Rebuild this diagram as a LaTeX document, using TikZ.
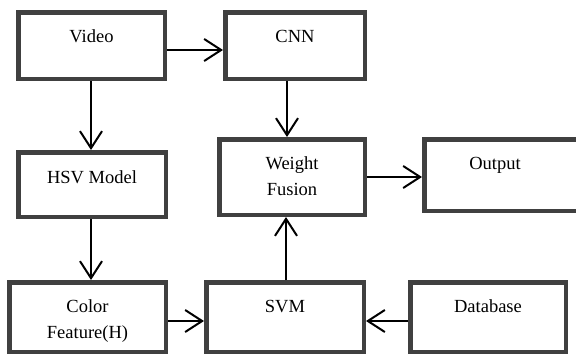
\documentclass[tikz,border=0pt]{standalone}
\usepackage{fontspec}
\setmainfont{Liberation Serif}
\usetikzlibrary{arrows.meta}
\definecolor{boxgray}{HTML}{404040}
\begin{document}
\begin{tikzpicture}[x=1pt,y=-1pt,
  box/.style={draw=boxgray, line width=4.5pt, fill=white, rectangle, inner sep=0pt},
  lbl/.style={font=\fontsize{18.5}{26}\selectfont, anchor=base, inner sep=0pt, align=center},
  conn/.style={line width=2pt, -{Straight Barb[length=17pt,width=22pt,line width=2pt]}}]
\useasboundingbox (0,0) rectangle (576,356);
\clip (0,0) rectangle (576,356);
% boxes
\node[box, minimum width=146.5pt, minimum height=66.5pt] (video) at (91.5,45.5) {};
\node[box, minimum width=139.5pt, minimum height=66.5pt] (cnn) at (295,45.5) {};
\node[box, minimum width=147.5pt, minimum height=64.5pt] (hsv) at (92,184.5) {};
\node[box, minimum width=145.5pt, minimum height=75.5pt] (wf) at (292,177) {};
\node[box, minimum width=163.5pt, minimum height=71.5pt] (out) at (506,175) {};
\node[box, minimum width=156.5pt, minimum height=69.5pt] (color) at (87.5,317) {};
\node[box, minimum width=157.5pt, minimum height=69.5pt] (svm) at (285,317) {};
\node[box, minimum width=155.5pt, minimum height=69.5pt] (db) at (488,317) {};
% labels
\node[lbl] (tvideo) at (91.5,42) {Video};
\node[lbl] (tcnn) at (295,42) {CNN};
\node[lbl] (thsv) at (92,183) {HSV Model};
\node[lbl] (twf) at (292,195) {Weight\\Fusion};
\node[lbl] (tout) at (495,169) {Output};
\node[lbl] (tcolor) at (87.5,338) {Color\\Feature(H)};
\node[lbl] (tsvm) at (285,312) {SVM};
\node[lbl] (tdb) at (488,312) {Database};
% connectors
\draw[conn] ([yshift=-4.5pt]video.east) -- ([yshift=-4.5pt]cnn.west);
\draw[conn] ([xshift=-0.5pt]video.south) -- ([xshift=-1pt]hsv.north);
\draw[conn] ([xshift=-1pt]hsv.south) -- ([xshift=3.5pt]color.north);
\draw[conn] ([xshift=-8pt]cnn.south) -- ([xshift=-5pt]wf.north);
\draw[conn] (wf.east) -- (wf.east -| out.west);
\draw[conn] ([xshift=1pt]svm.north) -- ([xshift=-6pt]wf.south);
\draw[conn] ([yshift=-4pt]color.east) -- ([yshift=-4pt]svm.west);
\draw[conn] ([yshift=-4pt]db.west) -- ([yshift=-4pt]svm.east);
\end{tikzpicture}
\end{document}
